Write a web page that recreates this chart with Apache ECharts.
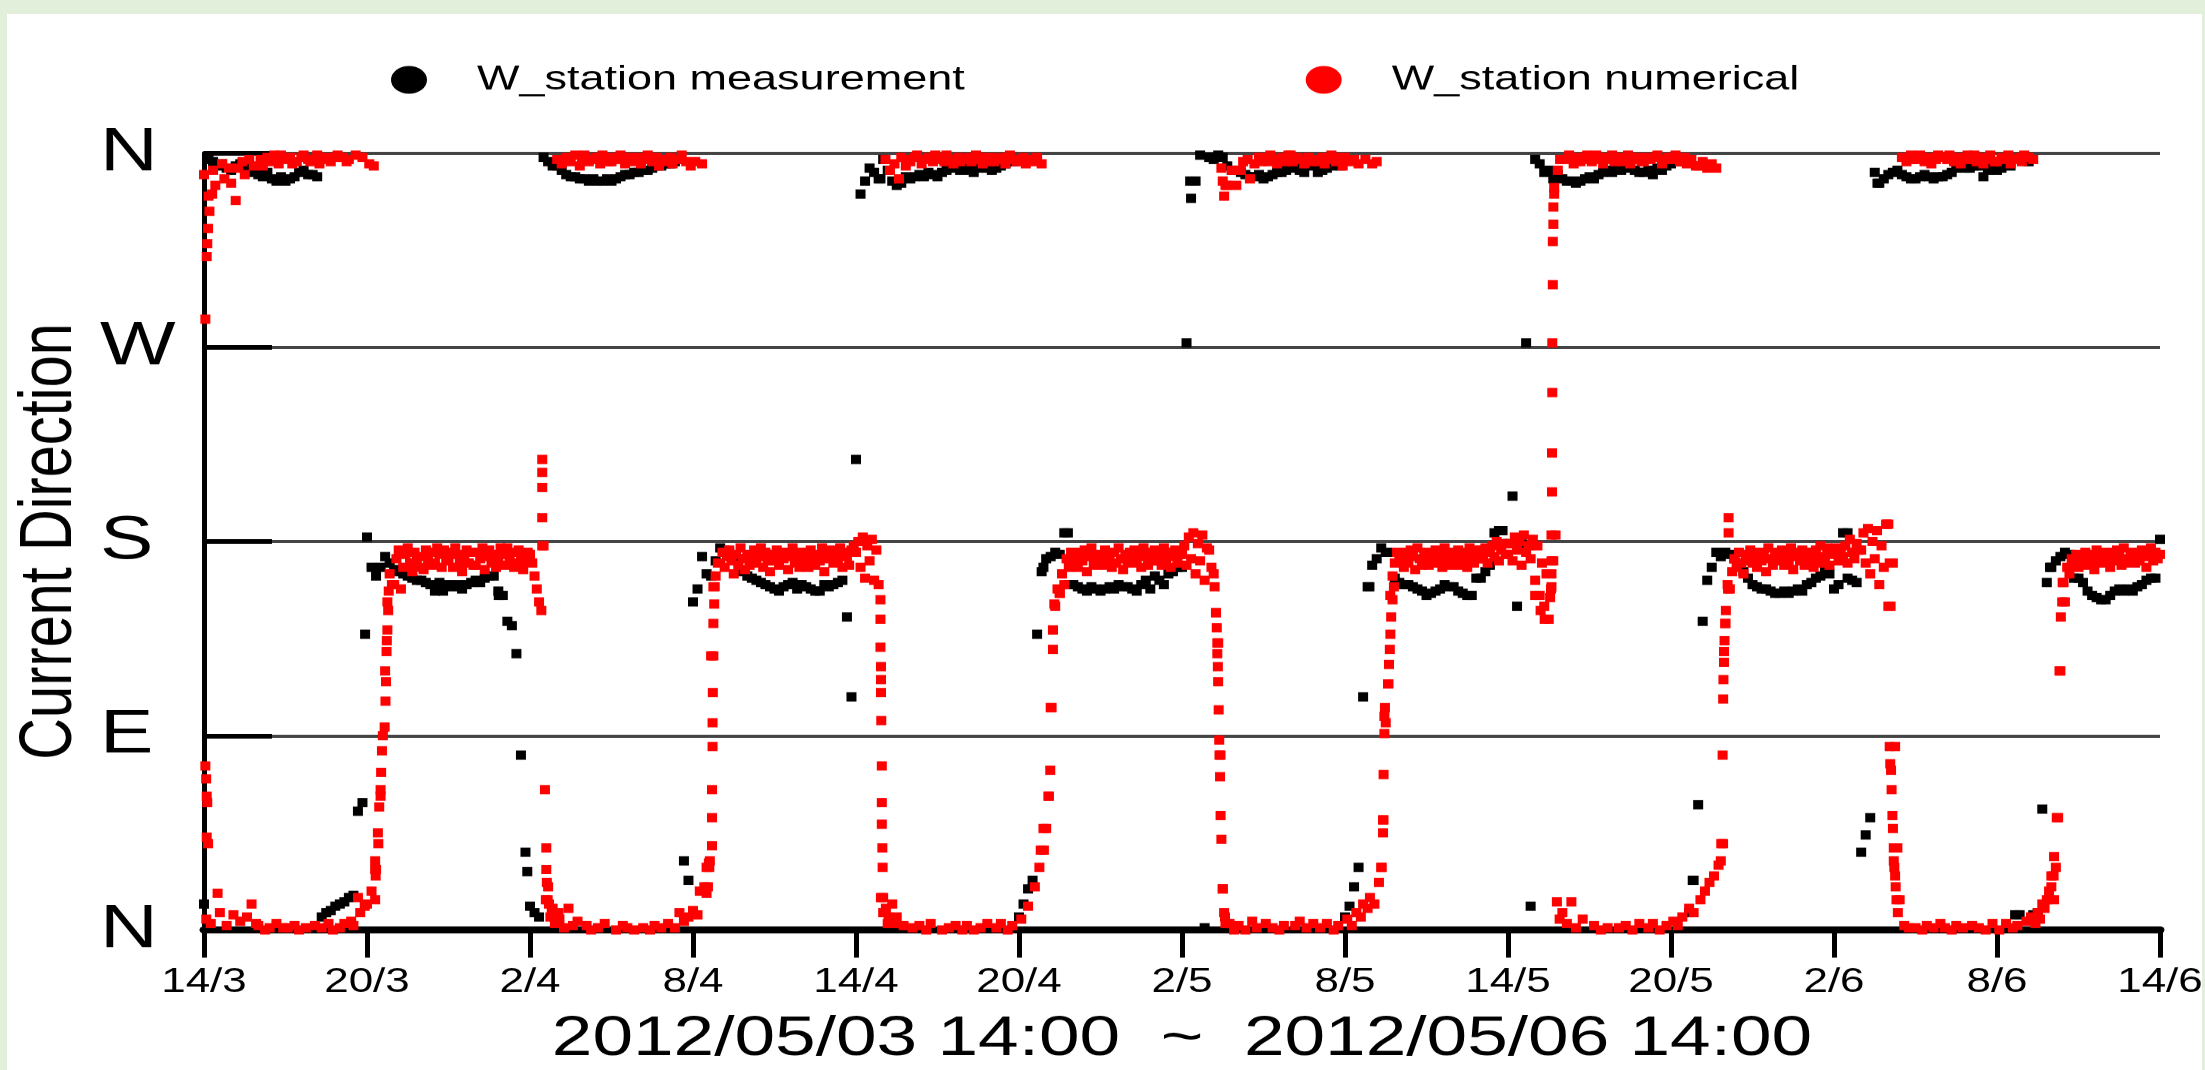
<!DOCTYPE html>
<html>
<head>
<meta charset="utf-8">
<title>Current Direction</title>
<script src="https://cdn.jsdelivr.net/npm/echarts@6/dist/echarts.min.js"></script>
<style>
  html, body { margin: 0; padding: 0; }
  body { width: 2205px; height: 1070px; background: #e2efda; position: relative; overflow: hidden; }
  .panel { position: absolute; left: 7px; top: 14px; width: 2195px; height: 1056px; background: #fff; overflow: hidden; }
  /* the source picture is squeezed vertically, so the chart is drawn taller and scaled down */
  #myChart { width: 2195px; height: 1371px; transform: scaleY(0.77); transform-origin: 0 0; }
</style>
</head>
<body>
<div class="panel"><div id="myChart"></div></div>
<script>
// x ticks every 6 hours, 2012/05/03 14:00 -> 2012/05/06 14:00
const tickLabels = ['14/3', '20/3', '2/4', '8/4', '14/4', '20/4', '2/5', '8/5', '14/5', '20/5', '2/6', '8/6', '14/6']
const dirLabels = ['N', 'E', 'S', 'W', 'N']

// numerical model, one value every 5 min (degrees, 0 = N), one row per hour
const numStep = 1 / 12
const numValues = [
  350, 5, 340, 3, 352, 345, 17, 8, 355, 348, 2, 353, // 0h
  346, 7, 338, 353, 4, 356, 350, 6, 357, 12, 354, 3,
  2, 357, 354, 0, 358, 1, 356, 359, 3, 355, 359, 1,
  357, 1, 358, 355, 2, 356, 0, 358, 359, 1, 357, 356,
  357, 2, 359, 355, 1, 357, 358, 3, 356, 0, 358, 359,
  1, 358, 3, 356, 357, 4, 2, 359, 15, 8, 358, 11,
  12, 355, 18, 354, 28, 40, 62, 90, 120, 152, 165, 160, // 6h
  160, 172, 176, 158, 168, 174, 177, 170, 166, 175, 172, 168,
  173, 167, 176, 171, 175, 169, 170, 177, 174, 168, 176, 172,
  171, 175, 168, 177, 174, 170, 166, 173, 176, 170, 175, 169,
  169, 175, 172, 177, 167, 173, 176, 170, 174, 168, 171, 177,
  174, 169, 177, 172, 175, 168, 170, 176, 173, 167, 171, 175,
  174, 170, 164, 158, 152, 148, 178, 14, 20, 6, 10, 3, // 12h
  357, 5, 355, 1, 358, 10, 356, 2, 359, 4, 354, 357,
  359, 2, 356, 0, 357, 358, 1, 355, 359, 3, 358, 356,
  356, 358, 0, 357, 359, 2, 355, 1, 358, 356, 0, 357,
  358, 355, 1, 357, 359, 0, 356, 2, 358, 354, 1, 357,
  356, 3, 358, 355, 1, 357, 8, 359, 4, 356, 6, 354,
  9, 356, 7, 18, 355, 20, 29, 31, 127, 159, 164, 170, // 18h
  170, 175, 168, 173, 176, 171, 165, 174, 169, 177, 172, 167,
  174, 169, 172, 176, 170, 173, 177, 168, 175, 171, 166, 174,
  171, 176, 169, 174, 172, 175, 167, 173, 177, 170, 174, 168,
  175, 170, 173, 168, 176, 172, 169, 174, 171, 177, 166, 173,
  172, 176, 170, 174, 171, 177, 168, 175, 173, 169, 176, 178,
  175, 180, 168, 182, 163, 178, 171, 181, 162, 176, 160, 15, // 24h
  8, 357, 3, 352, 12, 355, 6, 348, 358, 2, 354, 357,
  356, 1, 358, 359, 2, 355, 357, 0, 358, 3, 356, 359,
  358, 357, 0, 356, 359, 1, 357, 355, 2, 358, 356, 0,
  357, 2, 358, 356, 0, 359, 357, 1, 355, 358, 3, 356,
  358, 356, 1, 357, 3, 358, 355, 0, 359, 2, 357, 356,
  357, 5, 358, 355, 11, 357, 356, 20, 358, 29, 355, 37, // 30h
  47, 62, 103, 139, 150, 158, 156, 165, 160, 172, 168, 175,
  170, 174, 168, 175, 171, 176, 166, 173, 177, 169, 174, 171,
  173, 169, 176, 171, 174, 168, 175, 170, 177, 172, 167, 174,
  171, 175, 170, 176, 172, 174, 168, 177, 173, 169, 175, 171,
  176, 171, 174, 169, 177, 172, 175, 168, 173, 176, 170, 174,
  174, 178, 169, 182, 172, 184, 165, 179, 171, 183, 162, 177, // 36h
  176, 168, 165, 147, 133, 81, 19, 6, 345, 3, 352, 0,
  345, 2, 352, 356, 0, 357, 348, 4, 355, 1, 358, 356,
  358, 3, 356, 359, 1, 357, 355, 0, 358, 2, 356, 359,
  359, 356, 2, 358, 4, 357, 355, 1, 358, 356, 3, 357,
  356, 1, 358, 355, 3, 357, 359, 0, 356, 2, 358, 354,
  358, 5, 356, 2, 357, 8, 355, 6, 12, 357, 10, 15, // 42h
  355, 12, 356, 22, 29, 51, 96, 114, 155, 164, 170, 175,
  171, 175, 168, 174, 170, 176, 173, 167, 177, 172, 169, 175,
  173, 169, 175, 171, 176, 170, 174, 168, 177, 172, 175, 169,
  174, 171, 176, 169, 175, 172, 168, 177, 173, 170, 176, 172,
  176, 172, 177, 170, 175, 178, 173, 180, 171, 176, 179, 174,
  174, 179, 171, 182, 176, 180, 169, 183, 175, 178, 172, 181, // 48h
  162, 178, 155, 170, 150, 165, 144, 158, 171, 183, 352, 357,
  8, 357, 3, 359, 13, 355, 1, 358, 356, 5, 357, 359,
  358, 356, 2, 359, 357, 0, 355, 358, 1, 357, 359, 356,
  357, 1, 358, 356, 2, 359, 355, 0, 357, 358, 3, 356,
  356, 358, 1, 357, 3, 358, 359, 0, 355, 357, 2, 358,
  357, 4, 359, 2, 356, 6, 358, 355, 10, 357, 8, 354, // 54h
  354, 14, 356, 18, 353, 22, 355, 25, 353, 30, 32, 40,
  142, 160, 158, 166, 172, 168, 175, 170, 165, 174, 171, 176,
  170, 174, 168, 175, 171, 173, 166, 177, 172, 169, 175, 171,
  172, 176, 169, 174, 170, 177, 167, 173, 175, 171, 176, 169,
  175, 171, 174, 168, 176, 172, 178, 170, 173, 177, 169, 175,
  174, 177, 171, 176, 173, 178, 170, 181, 175, 172, 179, 176, // 60h
  176, 184, 170, 186, 165, 180, 172, 185, 160, 178, 168, 188,
  188, 150, 170, 85, 38, 14, 358, 2, 356, 1, 359, 357,
  1, 357, 359, 0, 356, 2, 358, 355, 1, 357, 359, 3,
  358, 1, 357, 359, 0, 356, 2, 358, 355, 1, 357, 359,
  357, 2, 359, 356, 1, 358, 355, 0, 357, 359, 3, 356,
  356, 0, 358, 357, 3, 359, 355, 1, 357, 2, 358, 356, // 66h
  359, 4, 358, 6, 357, 3, 8, 5, 12, 10, 14, 18,
  20, 25, 29, 52, 120, 161, 152, 168, 165, 172, 169, 174,
  168, 173, 170, 175, 169, 174, 171, 167, 176, 172, 170, 175,
  172, 175, 168, 174, 171, 176, 173, 169, 177, 172, 170, 175,
  173, 170, 175, 171, 176, 173, 168, 174, 177, 171, 175, 172,
  174 // 72h
]

// model points during fast turns [hour, degrees]
const numTurns = [
  [0.05, 283], [0.1, 312], [0.12, 318], [0.15, 325], [0.2, 333], [0.3, 341],
  [0.05, 76], [0.08, 70], [0.1, 62], [0.12, 59], [0.1, 43], [0.15, 40],
  [6.3, 28], [6.3, 32], [6.32, 25], [6.3, 14], [6.4, 45], [6.45, 57], [6.5, 65], [6.52, 73],
  [6.55, 83], [6.65, 94], [6.68, 106], [6.7, 115], [6.72, 129], [6.73, 134], [6.75, 139], [6.78, 148], [6.8, 157],
  [12.45, 218], [12.45, 212], [12.45, 205], [12.45, 191], [12.45, 178], [12.55, 65], [12.6, 38], [12.6, 28],
  [12.62, 22], [12.65, 14], [12.7, 12], [12.8, 9], [12.9, 6], [13.05, 8],
  [18.5, 17], [18.55, 20], [18.6, 29], [18.62, 32], [18.7, 39], [18.7, 52], [18.7, 65], [18.72, 85],
  [18.72, 96], [18.73, 110], [18.75, 127], [18.75, 142], [18.78, 151], [18.8, 159],
  [24.9, 153], [24.9, 144], [24.9, 131], [24.92, 122], [24.92, 116], [24.92, 110], [24.93, 97], [24.95, 76],
  [24.95, 59], [24.95, 49], [24.97, 38], [24.98, 29], [25.0, 15], [25.1, 10], [25.2, 6], [25.4, 3],
  [30.8, 37], [30.9, 47], [31.1, 62], [31.15, 74], [31.2, 103], [31.25, 130], [31.25, 139], [31.3, 151], [31.5, 156],
  [37.2, 159], [37.25, 147], [37.28, 140], [37.3, 133], [37.3, 128], [37.32, 122], [37.33, 115], [37.35, 102],
  [37.37, 88], [37.38, 81], [37.4, 71], [37.42, 53], [37.45, 42], [37.5, 19], [37.55, 8], [37.6, 3],
  [37.45, 353], [37.5, 347], [37.55, 340], [37.6, 345],
  [43.35, 29], [43.4, 45], [43.4, 51], [43.42, 72], [43.45, 91], [43.45, 99], [43.47, 103], [43.6, 114],
  [43.62, 123], [43.65, 130], [43.67, 137], [43.7, 145], [43.75, 153], [43.8, 159],
  [49.0, 155], [49.2, 148], [49.35, 144], [49.55, 154], [49.6, 159], [49.6, 165], [49.6, 171], [49.6, 183],
  [49.62, 203], [49.62, 221], [49.63, 249], [49.63, 272], [49.65, 299], [49.65, 319], [49.67, 327], [49.67, 335],
  [49.7, 341], [49.7, 344], [49.8, 13], [49.9, 5],
  [55.85, 40], [55.9, 81], [55.92, 107], [55.93, 116], [55.95, 124], [55.95, 129], [55.97, 134], [56.0, 142],
  [56.02, 148], [56.1, 158], [56.12, 184], [56.12, 191],
  [61.95, 188], [62.0, 150], [62.05, 170], [62.05, 85], [62.07, 77], [62.1, 74], [62.12, 65], [62.15, 53],
  [62.17, 47], [62.2, 38], [62.2, 32], [62.22, 29], [62.25, 25], [62.27, 20], [62.3, 14], [62.35, 8],
  [68.0, 25], [68.1, 14], [68.1, 34], [68.2, 52], [68.3, 120], [68.35, 145], [68.4, 152], [68.45, 161]
]

// measurement, one value every 10 min, one row per hour
const measStep = 1 / 6
const measValues = [
  12, 357, 356, 354, 355, 353, // 0h
  352, 354, 355, 353, 351, 352,
  350, 349, 351, 348, 347, 349,
  347, 348, 349, 351, 352, 350,
  350, 349, 6, 8, 9, 11,
  12, 13, 15, 16, 55, 59,
  182, 168, 164, 168, 173, 170, // 6h
  166, 167, 165, 164, 163, 162,
  162, 161, 160, 157, 161, 159,
  160, 159, 160, 158, 160, 161,
  162, 161, 163, 164, 164, 157,
  155, 143, 141, 128, 81, 36,
  11, 8, 6, 358, 356, 354, // 12h
  354, 352, 350, 349, 349, 348,
  348, 347, 348, 347, 347, 348,
  347, 348, 349, 350, 350, 351,
  351, 352, 352, 353, 354, 354,
  355, 355, 356, 357, 32, 23,
  152, 158, 173, 165, 164, 171, // 18h
  177, 176, 175, 173, 172, 166,
  164, 163, 162, 161, 160, 159,
  158, 157, 159, 160, 161, 158,
  160, 159, 158, 157, 157, 160,
  159, 160, 161, 162, 145, 108,
  218, 341, 347, 353, 351, 348, // 24h
  357, 352, 347, 345, 346, 349,
  348, 349, 350, 349, 351, 350,
  349, 351, 352, 353, 354, 352,
  353, 352, 351, 353, 354, 353,
  352, 353, 354, 355, 356, 356,
  6, 12, 19, 23, 137, 166, // 30h
  172, 173, 175, 174, 184, 160,
  160, 159, 158, 157, 159, 158,
  157, 158, 159, 158, 160, 159,
  159, 158, 157, 160, 162, 158,
  164, 162, 160, 165, 166, 168,
  168, 272, 339, 347, 359, 1, // 36h
  358, 357, 359, 358, 354, 352,
  352, 351, 350, 349, 349, 350,
  348, 349, 350, 351, 351, 352,
  353, 354, 352, 351, 355, 354,
  351, 352, 353, 354, 355, 354,
  6, 11, 20, 29, 108, 159, // 42h
  169, 172, 177, 175, 175, 163,
  161, 160, 160, 159, 158, 157,
  155, 156, 157, 158, 160, 159,
  159, 157, 156, 155, 155, 163,
  163, 166, 169, 184, 185, 179,
  179, 201, 150, 179, 272, 11, // 48h
  357, 355, 351, 352, 348, 350,
  348, 347, 347, 346, 347, 348,
  349, 348, 350, 351, 352, 351,
  353, 352, 354, 353, 352, 351,
  351, 352, 350, 353, 352, 354,
  355, 356, 357, 356, 8, 23, // 54h
  58, 143, 162, 168, 175, 173,
  175, 174, 172, 170, 166, 163,
  160, 159, 158, 158, 157, 156,
  156, 157, 156, 157, 158, 157,
  160, 161, 163, 164, 166, 165,
  158, 160, 184, 163, 162, 161, // 60h
  36, 44, 52, 351, 346, 348,
  350, 351, 352, 350, 349, 348,
  348, 349, 350, 349, 348, 349,
  349, 350, 351, 353, 354, 353,
  353, 354, 354, 349, 352, 353,
  352, 353, 355, 354, 7, 7, // 66h
  357, 356, 7, 8, 56, 161,
  168, 171, 173, 175, 174, 163,
  163, 161, 157, 155, 154, 153,
  153, 155, 157, 158, 157, 158,
  157, 159, 160, 162, 163, 163,
  181 // 72h
]

const measExtra = [
  [5.93, 137], [8.8, 157], [10.85, 155], [11.9, 27], [24.9, 348], [30.9, 168], [31.8, 184], [36.3, 347],
  [42.9, 159], [47.8, 185], [54.8, 23], [55.8, 175], [60.5, 184], [61.6, 346], [67.95, 168]
]

const font = '"Liberation Sans", Arial, Helvetica, sans-serif'

function toPoints (step, values) {
  return values.map((v, i) => [i * step, v])
}

let myChart = echarts.init(document.getElementById('myChart'))
myChart.setOption({
  animation: false,
  backgroundColor: '#fff',
  textStyle: { fontFamily: font },
  legend: {
    left: 379,
    top: 58,
    itemWidth: 126,
    itemHeight: 36,
    itemGap: 341,
    icon: 'circle',
    textStyle: { color: '#000', fontSize: 45, lineHeight: 45, fontFamily: font },
    data: ['W_station measurement', 'W_station numerical']
  },
  grid: {
    left: 197,
    top: 180.5,
    width: 1956,
    height: 1009,
    containLabel: false,
    outerBoundsMode: 'none'
  },
  xAxis: {
    type: 'value',
    min: 0,
    max: 72,
    interval: 6,
    name: '2012/05/03 14:00  ~  2012/05/06 14:00',
    nameLocation: 'middle',
    nameGap: 106,
    nameTextStyle: { color: '#000', fontSize: 73, fontFamily: font },
    axisLine: { show: true, onZero: false, lineStyle: { color: '#000', width: 9 } },
    axisTick: { show: true, inside: false, length: 36, lineStyle: { color: '#000', width: 5 } },
    axisLabel: {
      color: '#000',
      fontSize: 44,
      margin: 46,
      showMinLabel: true,
      showMaxLabel: true,
      hideOverlap: false,
      formatter: v => tickLabels[Math.round(v / 6)]
    },
    splitLine: { show: false }
  },
  yAxis: {
    type: 'value',
    min: 0,
    max: 360,
    interval: 90,
    name: 'Current Direction',
    nameLocation: 'middle',
    nameGap: 116,
    nameTextStyle: { color: '#000', fontSize: 75, fontFamily: font },
    axisLine: { show: true, onZero: false, lineStyle: { color: '#000', width: 5 } },
    axisTick: { show: true, inside: true, length: 68, lineStyle: { color: '#000', width: 6 } },
    axisLabel: {
      color: '#000',
      fontSize: 80,
      margin: 104,
      align: 'left',
      showMinLabel: true,
      showMaxLabel: true,
      formatter: v => dirLabels[Math.round(v / 90)]
    },
    splitLine: { show: true, lineStyle: { color: '#444', width: 4 } }
  },
  series: [
    {
      name: 'W_station measurement',
      type: 'scatter',
      symbol: 'rect',
      symbolSize: [10, 12],
      itemStyle: { color: '#000', opacity: 1 },
      data: toPoints(measStep, measValues).concat(measExtra)
    },
    {
      name: 'W_station numerical',
      type: 'scatter',
      symbol: 'rect',
      symbolSize: [10, 12],
      itemStyle: { color: '#ff0000', opacity: 1 },
      data: toPoints(numStep, numValues).concat(numTurns)
    }
  ]
})
</script>
</body>
</html>
